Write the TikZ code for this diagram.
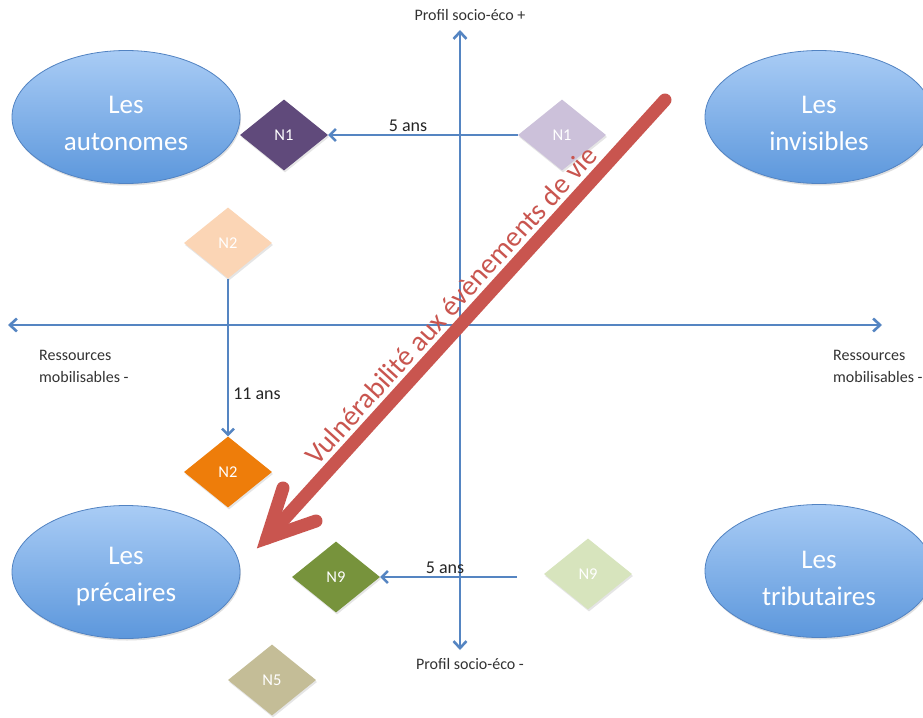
\documentclass[tikz,border=0pt]{standalone}
\usepackage{fontspec}
\setmainfont{Carlito}
\usetikzlibrary{shapes.geometric,arrows.meta,shadows}
\definecolor{axisblue}{HTML}{5585C2}
\definecolor{elltop}{HTML}{A9CCF5}
\definecolor{ellbot}{HTML}{5C97DC}
\definecolor{ellborder}{HTML}{5283C2}
\definecolor{nonedark}{HTML}{604A7B}
\definecolor{nonelight}{HTML}{CCC1DA}
\definecolor{ntwolight}{HTML}{FBD5B5}
\definecolor{ntwodark}{HTML}{EE7D0A}
\definecolor{nninedark}{HTML}{77933C}
\definecolor{nninelight}{HTML}{D7E4BD}
\definecolor{nfive}{HTML}{C4BD97}
\definecolor{vulnred}{HTML}{C9554F}
\tikzset{
  group/.style={ellipse, draw=ellborder, line width=0.8pt, top color=elltop, bottom color=ellbot,
    minimum width=228pt, minimum height=133pt, inner sep=0pt,
    drop shadow={opacity=0.25,shadow xshift=1pt,shadow yshift=-2pt}},
  grouptext/.style={text=white, align=center, inner sep=0pt, font=\fontsize{27}{37}\selectfont},
  level/.style={diamond, aspect=1.24, minimum width=88pt, minimum height=71pt, inner sep=0pt,
    text=white, font=\fontsize{16.5}{18}\selectfont, drop shadow={opacity=0.2,shadow xshift=1pt,shadow yshift=-2pt}},
  axis/.style={draw=axisblue, line width=2.6pt, {Straight Barb[length=7pt,width=13pt]}-{Straight Barb[length=7pt,width=13pt]}},
  move/.style={draw=axisblue, line width=2.4pt, -{Straight Barb[length=6pt,width=12pt]}},
  lbl/.style={font=\fontsize{16}{22}\selectfont, text=black!80, align=left, inner sep=0pt},
  dur/.style={font=\fontsize{18}{20}\selectfont, text=black!85, inner sep=0pt},
  vuln/.style={draw=vulnred, line width=13pt, line cap=round}
}
\begin{document}
\begin{tikzpicture}[x=1pt,y=-1pt]
\useasboundingbox[fill=white] (0,0) rectangle (923,717);
% axes
\coordinate (xl) at (8,325);
\coordinate (xr) at (882,325);
\coordinate (yt) at (460,30);
\coordinate (yb) at (460,650);
\draw[axis] (xl) -- (xr);
\draw[axis] (yb) -- (yt);
\node[lbl] (ptop) at (470,15) {Profil socio-éco +};
\node[lbl] (pbot) at (470,664) {Profil socio-éco -};
\node[lbl, anchor=north west] (rleft) at (39,350) {Ressources\\mobilisables -};
\node[lbl, anchor=north west] (rright) at (833,350) {Ressources\\mobilisables -};
% groups
\node[group] (auto) at (126,117) {};
\node[grouptext] (autot) at (126,123) {Les\\autonomes};
\node[group] (invi) at (819,117) {};
\node[grouptext] (invit) at (819,123) {Les\\invisibles};
\node[group] (prec) at (126,572) {};
\node[grouptext] (prect) at (126,577) {Les\\précaires};
\node[group] (trib) at (819,571) {};
\node[grouptext] (tribt) at (819,578) {Les\\tributaires};
% levels
\node[level, fill=nonedark] (n1a) at (284,135) {N1};
\node[level, fill=nonelight] (n1b) at (562,135) {N1};
\node[level, fill=ntwolight] (n2a) at (228,243) {N2};
\node[level, fill=ntwodark] (n2b) at (228,472) {N2};
\node[level, fill=nninedark] (n9a) at (336,577) {N9};
\node[level, fill=nninelight] (n9b) at (588,574) {N9};
\node[level, fill=nfive] (n5) at (272,680) {N5};
% moves
\draw[move] (n1b.west) -- (n1a.east);
\node[dur] (d1) at (408,126) {5 ans};
\draw[move] (n2a.south) -- (n2b.north);
\node[dur] (d2) at (257,394) {11 ans};
\coordinate (n9start) at (517,577);
\draw[move] (n9start) -- (n9a.east);
\node[dur] (d3) at (445,568) {5 ans};
% vulnerability arrow
\coordinate (vtop) at (665,100);
\coordinate (vtip) at (267,538);
\coordinate (vbarbA) at (283,488);
\coordinate (vbarbB) at (316,521);
\draw[vuln] (vtop) -- (vtip)
  node[pos=0.5, sloped, above, yshift=1pt, text=vulnred, inner sep=3pt,
  font=\fontsize{28.5}{32}\selectfont] (vlab) {Vulnérabilité aux évènements de vie};
\draw[vuln, line join=miter, miter limit=20] (vbarbA) -- (vtip) -- (vbarbB);
\end{tikzpicture}
\end{document}
